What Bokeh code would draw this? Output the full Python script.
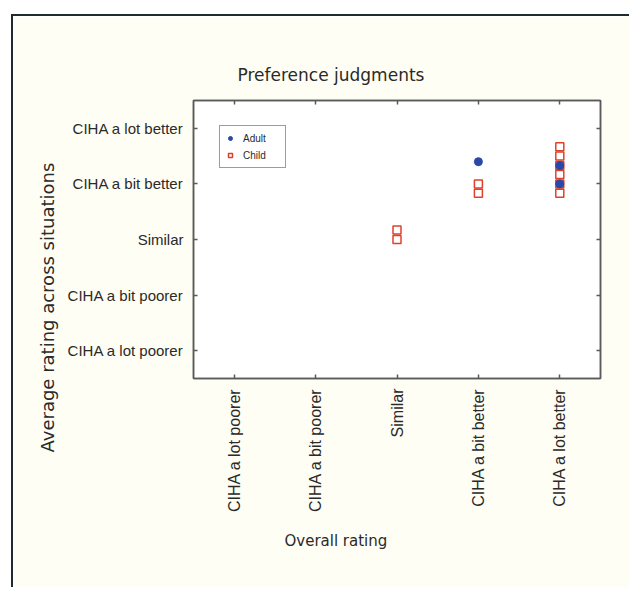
import math
from bokeh.plotting import figure
from bokeh.models import (Range1d, Legend, LegendItem, LinearAxis, Title,
                          FixedTicker, ColumnDataSource)
from bokeh.embed import file_html
from bokeh.resources import INLINE

# ---------------- data ----------------
rating_labels = ["CIHA a lot poorer", "CIHA a bit poorer", "Similar",
                 "CIHA a bit better", "CIHA a lot better"]
rating_ticks = [1, 2, 3, 4, 5]

adult_overall = [4, 5, 5]
adult_average = [4.4, 4.33, 4.0]

child_overall = [3, 3, 4, 4, 5, 5, 5, 5, 5, 5]
child_average = [3.17, 3.0, 4.0, 3.83, 4.67, 4.5, 4.33, 4.17, 4.0, 3.83]

title_text = "Preference judgments"
x_title = "Overall rating"
y_title = "Average rating across situations"

# ---------------- layout ----------------
W, H = 618, 573
ML, MT = 180, 84
FRAME_W, FRAME_H = 407, 278
MR = W - ML - FRAME_W
MB = H - MT - FRAME_H
X0, X1 = 0.5, 5.5
Y0, Y1 = 0.5, 5.5

FONT = "Liberation Sans"
TFONT = "DejaVu Sans"
TXT = "#2a2a2a"

p = figure(width=W, height=H, output_backend="svg", toolbar_location=None,
           x_range=Range1d(X0, X1), y_range=Range1d(Y0, Y1),
           min_border_left=ML, min_border_right=MR,
           min_border_top=MT, min_border_bottom=MB,
           x_axis_location=None, y_axis_location=None)
p.margin = (14, 0, 0, 11)
p.styles = {"border-left": "2px solid #1f2b33", "border-top": "2px solid #1f2b33"}
p.border_fill_color = "#fffef4"
p.background_fill_color = "#ffffff"
p.outline_line_color = "#5a5a5a"
p.outline_line_width = 1.5
p.xgrid.visible = False
p.ygrid.visible = False

ticker = FixedTicker(ticks=rating_ticks)
overrides = {t: lab for t, lab in zip(rating_ticks, rating_labels)}


def make_axis(show_labels):
    ax = LinearAxis(ticker=ticker)
    ax.axis_line_color = "#5a5a5a"
    ax.axis_line_width = 1.5
    ax.major_tick_in = 4
    ax.major_tick_out = 0
    ax.major_tick_line_color = "#5a5a5a"
    ax.major_tick_line_width = 1.5
    ax.minor_tick_line_color = None
    if show_labels:
        ax.major_label_overrides = overrides
        ax.major_label_text_font = FONT
        ax.major_label_text_color = TXT
        ax.major_label_text_font_size = "15px"
        ax.major_label_standoff = 10
    else:
        ax.major_label_text_font_size = "0px"
        ax.major_label_text_alpha = 0
        ax.major_label_standoff = 0
    return ax


xb = make_axis(True)
xb.major_label_orientation = math.pi / 2
xb.major_label_text_font_size = "16px"
yl = make_axis(True)
xt = make_axis(False)
yr = make_axis(False)
p.add_layout(xb, "below")
p.add_layout(yl, "left")
p.add_layout(xt, "above")
p.add_layout(yr, "right")

adult_src = ColumnDataSource(dict(x=adult_overall, y=adult_average))
child_src = ColumnDataSource(dict(x=child_overall, y=child_average))

r_child = p.scatter("x", "y", source=child_src, marker="square", size=8,
                    fill_color=None, line_color="#e0402a", line_width=1.5)
r_adult = p.scatter("x", "y", source=adult_src, marker="circle", size=8,
                    fill_color="#2a48a8", line_color="#2a48a8")

legend = Legend(items=[LegendItem(label="Adult", renderers=[r_adult]),
                       LegendItem(label="Child", renderers=[r_child])],
                location=(26, 210))
legend.label_text_font = FONT
legend.label_text_font_size = "10px"
legend.label_text_color = TXT
legend.glyph_width = 10
legend.glyph_height = 10
legend.label_height = 14
legend.label_width = 37
legend.label_standoff = 8
legend.padding = 5
legend.spacing = 3
legend.margin = 0
legend.border_line_color = "#3a3a3a"
legend.border_line_width = 1.5
legend.background_fill_color = "#ffffff"
p.add_layout(legend)

t_top = Title(text=title_text, align="left", offset=44, standoff=32,
              text_font=TFONT, text_font_size="17px", text_color=TXT,
              text_font_style="normal")
p.add_layout(t_top, "above")
t_below = Title(text=x_title, align="left", offset=91, standoff=29,
                text_font=TFONT, text_font_size="15px", text_color=TXT,
                text_font_style="normal")
p.add_layout(t_below, "below")
t_left = Title(text=y_title, align="left", offset=-74, standoff=14,
               text_font=TFONT, text_font_size="18px", text_color=TXT,
               text_font_style="normal")
p.add_layout(t_left, "left")

open("out.html", "w").write(file_html(p, INLINE))
